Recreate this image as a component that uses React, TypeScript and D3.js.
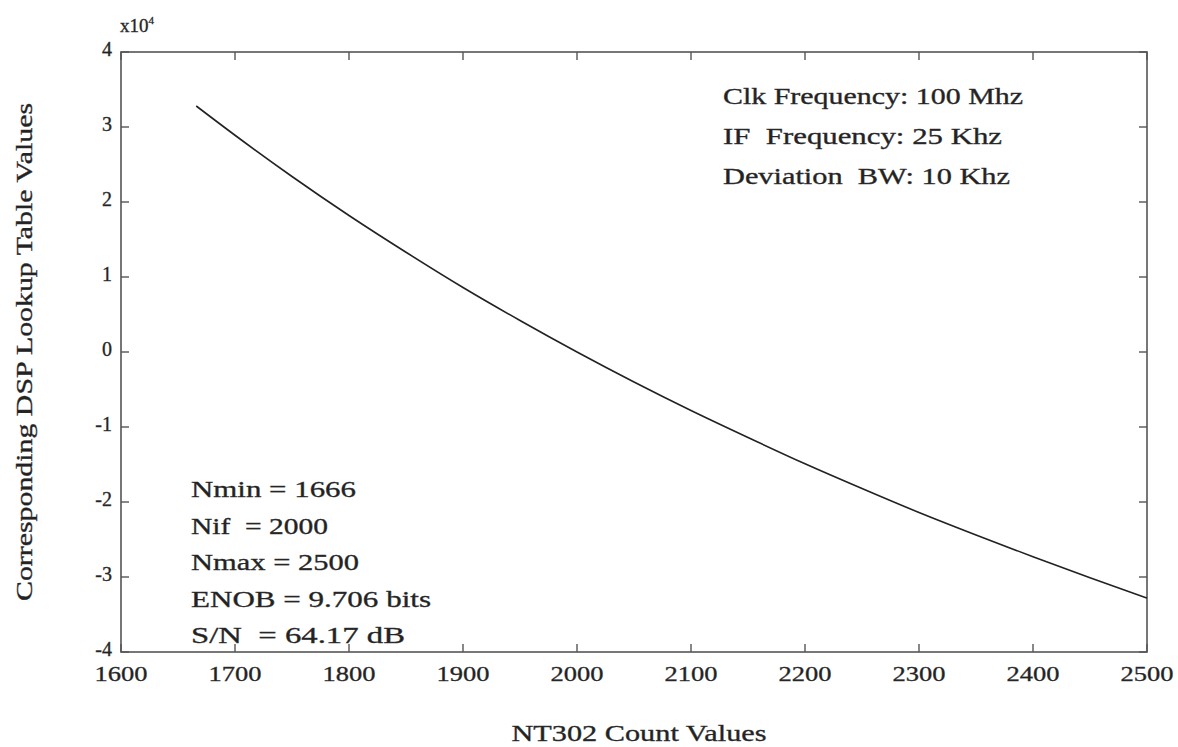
import React from "react";
import * as d3 from "d3";

const countValues = [1666, 1700, 1750, 1800, 1850, 1900, 1950, 2000, 2050, 2100, 2150, 2200, 2250, 2300, 2350, 2400, 2450, 2500];
const lookupValues = [3.28, 2.89, 2.34, 1.82, 1.33, 0.86, 0.42, 0, -0.40, -0.78, -1.14, -1.49, -1.82, -2.14, -2.44, -2.73, -3.01, -3.28];
const xTicks = [1600, 1700, 1800, 1900, 2000, 2100, 2200, 2300, 2400, 2500];
const yTicks = [-4, -3, -2, -1, 0, 1, 2, 3, 4];
const topRightNotes = ["Clk Frequency: 100 Mhz", "IF\u00a0\u00a0Frequency: 25 Khz", "Deviation\u00a0\u00a0BW: 10 Khz"];
const topRightLengths = [300, 279, 287];
const bottomLeftNotes = ["Nmin = 1666", "Nif\u00a0\u00a0= 2000", "Nmax = 2500", "ENOB = 9.706 bits", "S/N\u00a0\u00a0= 64.17 dB"];
const bottomLeftLengths = [165, 137, 168, 240, 214];

export default function App() {
  const W = 1178, H = 747;
  const left = 121, right = 1147, top = 52, bottom = 652;
  const x = d3.scaleLinear().domain([1600, 2500]).range([left, right]);
  const y = d3.scaleLinear().domain([-4, 4]).range([bottom, top]);
  const data = countValues.map((c, i) => [c, lookupValues[i]] as [number, number]);
  const line = d3.line<[number, number]>().x(d => x(d[0])).y(d => y(d[1])).curve(d3.curveMonotoneX);
  const font = "'Liberation Serif', 'Times New Roman', serif";
  const ink = "#222";
  const axisColor = "#555";
  const tl = 8;
  const textStroke = { stroke: "#333", strokeWidth: 0.35 };
  return (
    <svg width={W} height={H} style={{ position: "absolute", left: 0, top: 0, background: "#fff" }} fontFamily={font}>
      <rect x={0} y={0} width={W} height={H} fill="#fff" />
      <rect x={left} y={top} width={right - left} height={bottom - top} fill="none" stroke={axisColor} strokeWidth={1.6} />
      {xTicks.map(t => (
        <g key={"xt" + t}>
          <line x1={x(t)} x2={x(t)} y1={bottom} y2={bottom - tl} stroke={axisColor} strokeWidth={1.4} />
          <line x1={x(t)} x2={x(t)} y1={top} y2={top + tl} stroke={axisColor} strokeWidth={1.4} />
          <text x={x(t)} y={681} textAnchor="middle" fontSize={22} fill={ink} {...textStroke} textLength={53} lengthAdjust="spacingAndGlyphs">{t}</text>
        </g>
      ))}
      {yTicks.map(t => (
        <g key={"yt" + t}>
          <line x1={left} x2={left + tl} y1={y(t)} y2={y(t)} stroke={axisColor} strokeWidth={1.4} />
          <line x1={right} x2={right - tl} y1={y(t)} y2={y(t)} stroke={axisColor} strokeWidth={1.4} />
          <text x={112} y={y(t) - 3} dy="0.35em" textAnchor="end" fontSize={20} fill={ink} {...textStroke}>{t}</text>
        </g>
      ))}
      <text x={120} y={32} fontSize={19} fill={ink} {...textStroke}>x10<tspan fontSize={11} dy={-8}>4</tspan></text>
      <path d={line(data) || ""} fill="none" stroke={ink} strokeWidth={1.6} />
      {topRightNotes.map((s, i) => (
        <text key={s} x={723} y={104 + i * 40} fontSize={23} fill={ink} {...textStroke} textLength={topRightLengths[i]} lengthAdjust="spacingAndGlyphs">{s}</text>
      ))}
      {bottomLeftNotes.map((s, i) => (
        <text key={s} x={191} y={497 + i * 36.5} fontSize={23} fill={ink} {...textStroke} textLength={bottomLeftLengths[i]} lengthAdjust="spacingAndGlyphs">{s}</text>
      ))}
      <text x={(left + right) / 2 + 5} y={741} textAnchor="middle" fontSize={23} fill={ink} {...textStroke} textLength={255} lengthAdjust="spacingAndGlyphs">NT302 Count Values</text>
      <text transform={`translate(32, ${(top + bottom) / 2}) rotate(-90)`} textAnchor="middle" fontSize={23} fill={ink} {...textStroke} textLength={498} lengthAdjust="spacingAndGlyphs">Corresponding DSP Lookup Table Values</text>
    </svg>
  );
}
